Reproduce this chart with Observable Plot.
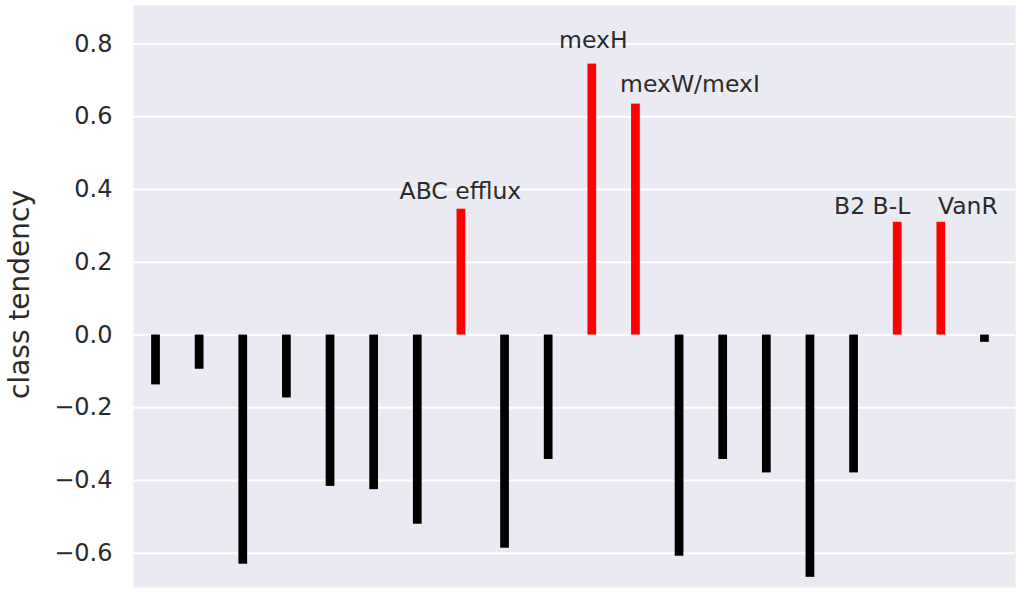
<!DOCTYPE html>
<html>
<head>
<meta charset="utf-8">
<script src="https://cdn.jsdelivr.net/npm/d3@7"></script>
<script src="https://cdn.jsdelivr.net/npm/@observablehq/plot@0.6"></script>
<style>
  body { margin: 0; background: #fff; }
  #chart svg { display: block; }
</style>
</head>
<body>
<div id="chart"></div>
<script>
// Class positions along the x axis (one bar per resistance class)
const positions = [0, 1, 2, 3, 4, 5, 6, 7, 8, 9, 10, 11, 12, 13, 14, 15, 16, 17, 18, 19];

// Class tendency per class
const tendency = [
  -0.137, -0.094, -0.630, -0.173, -0.416, -0.425, -0.520, 0.346, -0.586, -0.342,
   0.745,  0.635, -0.608, -0.342, -0.379, -0.666, -0.379, 0.310,  0.310, -0.020
];

// Names shown above the positive classes
const classNames = [
  "", "", "", "", "", "", "", "ABC efflux", "", "",
  "mexH", "mexW/mexI", "", "", "", "", "", "B2 B-L", "VanR", ""
];

// Y tick values
const yTicks = [-0.6, -0.4, -0.2, 0.0, 0.2, 0.4, 0.6, 0.8];

const bars = positions.map((p, i) => ({pos: p, value: tendency[i], name: classNames[i]}));
const named = bars.filter(d => d.name !== "");

// Per-label nudges (pixels) so the names sit clear of their bars
const nudge = {
  "ABC efflux": [-1, -10],
  "mexH": [1, -16],
  "mexW/mexI": [54, -12.5],
  "B2 B-L": [-25.5, -8.5],
  "VanR": [26.5, -8.5]
};

const ink = "#2b2b2b";
const halfWidth = 0.1;

const labelMarks = named.map(d => Plot.text([d], {
  x: "pos",
  y: "value",
  text: "name",
  textAnchor: "middle",
  lineAnchor: "bottom",
  dx: nudge[d.name][0],
  dy: nudge[d.name][1],
  fontSize: 23.5,
  fill: ink
}));

const chart = Plot.plot({
  width: 1016,
  height: 590,
  marginLeft: 133,
  marginRight: 1,
  marginTop: 5,
  marginBottom: 3,
  style: {fontFamily: "DejaVu Sans", fontSize: "24px", background: "#fff", overflow: "visible"},
  x: {type: "linear", domain: [-0.516, 19.70], axis: null},
  y: {domain: [-0.694, 0.906]},
  marks: [
    Plot.frame({fill: "#EAEAF2", stroke: null}),
    Plot.ruleY(yTicks, {stroke: "#fff", strokeWidth: 2}),
    Plot.rect(bars, {
      x1: d => d.pos - halfWidth,
      x2: d => d.pos + halfWidth,
      y1: d => 0,
      y2: "value",
      fill: d => d.value > 0 ? "#ff0000" : "#000000"
    }),
    Plot.axisY({
      ticks: yTicks,
      tickSize: 0,
      tickPadding: 21,
      tickFormat: d3.format(".1f"),
      fontSize: 24,
      color: ink,
      label: null
    }),
    Plot.text(["class tendency"], {
      frameAnchor: "left",
      textAnchor: "middle",
      rotate: -90,
      dx: -113,
      dy: -2,
      fontSize: 28,
      fill: ink
    }),
    ...labelMarks
  ]
});

document.getElementById("chart").appendChild(chart);
</script>
</body>
</html>
